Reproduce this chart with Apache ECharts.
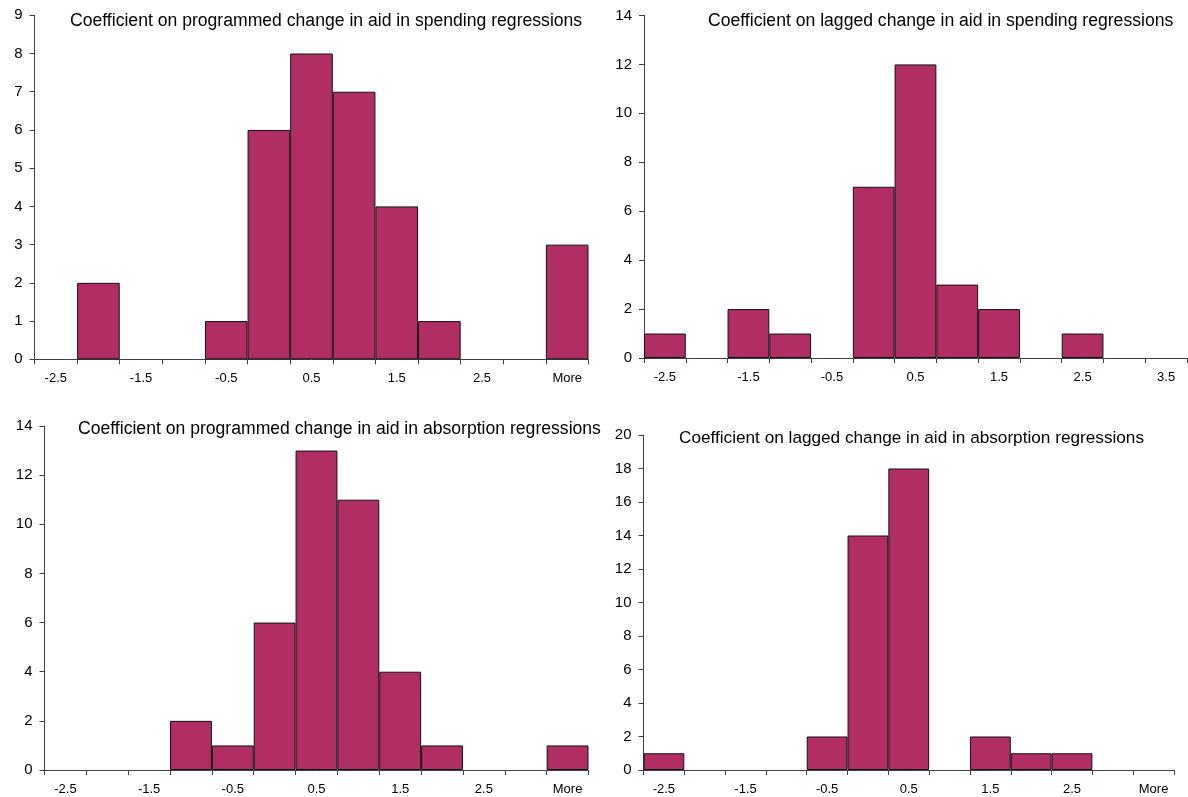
<!DOCTYPE html>
<html>
<head>
<meta charset="utf-8">
<script src="https://cdn.jsdelivr.net/npm/echarts@6/dist/echarts.min.js"></script>
<style>
html,body{margin:0;padding:0;background:#fff;}
#chart{width:1188px;height:797px;}
</style>
</head>
<body>
<div id="chart"></div>
<script>
// Histogram bins (category labels)
const binsMore = ['-2.5','-2','-1.5','-1','-0.5','0','0.5','1','1.5','2','2.5','3','More'];
const bins35 = ['-2.5','-2','-1.5','-1','-0.5','0','0.5','1','1.5','2','2.5','3','3.5'];

// Counts per bin
const progSpending = [0,2,0,0,1,6,8,7,4,1,0,0,3];
const lagSpending  = [1,0,2,1,0,7,12,3,2,0,1,0,0];
const progAbsorb   = [0,0,0,2,1,6,13,11,4,1,0,0,1];
const lagAbsorb    = [1,0,0,0,2,14,18,0,2,1,1,0,0];

const titles = [
  'Coefficient on programmed change in aid in spending regressions',
  'Coefficient on lagged change in aid in spending regressions',
  'Coefficient on programmed change in aid in absorption regressions',
  'Coefficient on lagged change in aid in absorption regressions'
];

const yMax = [9, 14, 14, 20];
const yInt = [1, 2, 2, 2];

const FONT = 'Liberation Sans, Arial, sans-serif';
const BAR = '#B02E64';
const AX = '#404040';

const grids = [
  {left: 34.5, top: 15.3, width: 554, height: 344},
  {left: 644, top: 15.5, width: 543, height: 342.5},
  {left: 44.5, top: 426, width: 544, height: 344},
  {left: 643.5, top: 435, width: 530.5, height: 335}
];
const titlePos = [
  {left: 70, top: 12, size: 17.6},
  {left: 708, top: 12, size: 17.6},
  {left: 78, top: 420, size: 17.6},
  {left: 679, top: 429, size: 17.2}
];
const cats = [binsMore, bins35, binsMore, binsMore];
const data = [progSpending, lagSpending, progAbsorb, lagAbsorb];

const option = {
  animation: false,
  backgroundColor: '#fff',
  title: titles.map((t, i) => ({
    text: t,
    left: titlePos[i].left,
    top: titlePos[i].top,
    padding: 0,
    textStyle: {fontFamily: FONT, fontSize: titlePos[i].size, fontWeight: 'normal', color: '#000', lineHeight: 18}
  })),
  grid: grids.map(g => Object.assign({containLabel: false}, g)),
  xAxis: cats.map((c, i) => ({
    type: 'category',
    gridIndex: i,
    data: c,
    boundaryGap: true,
    axisLine: {show: true, lineStyle: {color: AX, width: 1}},
    axisTick: {show: true, interval: 0, alignWithLabel: false, length: 5, lineStyle: {color: AX}},
    axisLabel: {interval: 1, margin: 13, fontFamily: FONT, fontSize: 13, color: '#000'},
    splitLine: {show: false}
  })),
  yAxis: yMax.map((m, i) => ({
    type: 'value',
    gridIndex: i,
    min: 0,
    max: m,
    interval: yInt[i],
    axisLine: {show: true, lineStyle: {color: AX, width: 1}},
    axisTick: {show: true, length: 5, lineStyle: {color: AX}},
    axisLabel: {margin: 12, fontFamily: FONT, fontSize: 15, color: '#000'},
    splitLine: {show: false}
  })),
  series: data.map((d, i) => ({
    type: 'bar',
    xAxisIndex: i,
    yAxisIndex: i,
    // empty bins are left undrawn so no border line sits on the axis
    data: d.map(v => (v === 0 ? '-' : v)),
    barCategoryGap: '0%',
    barGap: '0%',
    itemStyle: {color: BAR, borderColor: '#111', borderWidth: 1}
  }))
};

const chart = echarts.init(document.getElementById('chart'), null, {renderer: 'canvas'});
chart.setOption(option);
</script>
</body>
</html>
